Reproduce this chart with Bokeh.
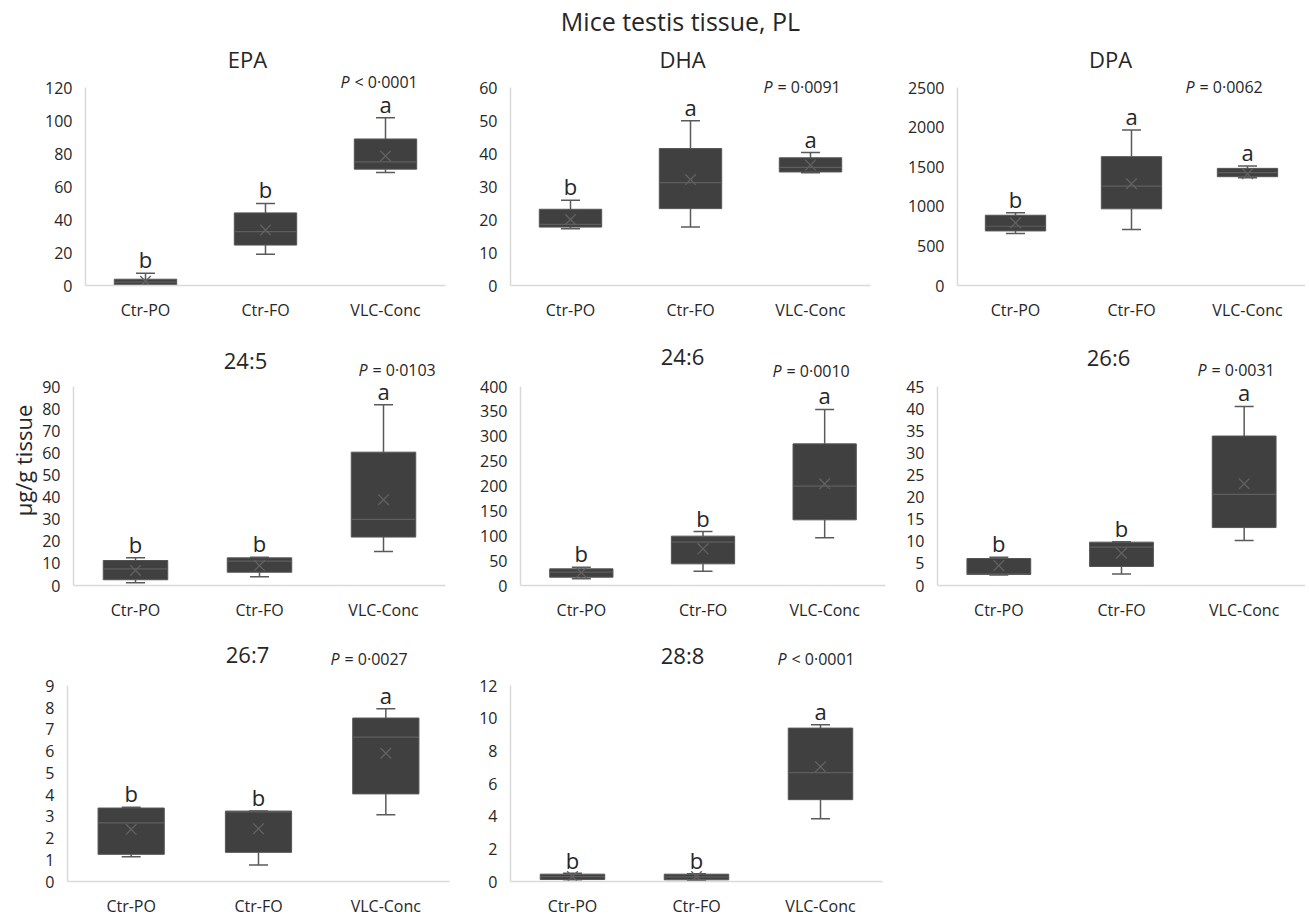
import math
from bokeh.plotting import figure
from bokeh.layouts import column, row
from bokeh.models import ColumnDataSource, FixedTicker, Range1d, FactorRange, Spacer
from bokeh.transform import dodge
from bokeh.core.properties import value
from bokeh.embed import file_html
from bokeh.resources import INLINE

# ---------------- data ----------------
MAIN_TITLE = "Mice testis tissue, PL"
Y_LABEL = "µg/g tissue"
GROUPS = ["Ctr-PO", "Ctr-FO", "VLC-Conc"]
PANELS = ["EPA", "DHA", "DPA", "24:5", "24:6", "26:6", "26:7", "28:8"]
Y_MAX = [120, 60, 2500, 90, 400, 45, 9, 12]
Y_STEP = [20, 10, 500, 10, 50, 5, 1, 2]
P_RELATION = ["<", "=", "=", "=", "=", "=", "=", "<"]
P_VALUES = ["0·0001", "0·0091", "0·0062", "0·0103", "0·0010", "0·0031", "0·0027", "0·0001"]
LETTERS = [["b", "b", "a"], ["b", "a", "a"], ["b", "a", "a"], ["b", "b", "a"],
           ["b", "b", "a"], ["b", "b", "a"], ["b", "b", "a"], ["b", "b", "a"]]

WHISKER_LOW = [[0.0, 18.9, 68.5], [17.2, 17.7, 34.2], [655, 706, 1361], [1.2, 4.0, 15.4],
               [13.4, 28.8, 95.9], [2.4, 2.6, 10.2], [1.14, 0.76, 3.07], [0.1, 0.05, 3.85]]
Q1 = [[0.3, 24.5, 70.5], [17.7, 23.3, 34.4], [689, 968, 1374], [2.6, 6.0, 21.9],
      [16.7, 43.5, 132], [2.5, 4.3, 13.1], [1.25, 1.34, 4.03], [0.12, 0.1, 5.02]]
MEDIAN = [[2.0, 32.6, 74.9], [18.5, 31.2, 35.8], [748, 1255, 1424], [7.5, 11.0, 29.9],
          [26.8, 87, 199.6], [2.6, 8.7, 20.6], [2.7, 3.2, 6.64], [0.3, 0.28, 6.68]]
Q3 = [[3.8, 44.0, 88.8], [23.1, 41.5, 38.7], [887, 1627, 1479], [11.3, 12.5, 60.3],
      [33.5, 99.2, 284.7], [6.1, 9.8, 33.8], [3.38, 3.24, 7.52], [0.45, 0.45, 9.41]]
WHISKER_HIGH = [[7.4, 49.7, 101.7], [25.8, 49.9, 40.3], [917, 1964, 1508], [12.5, 12.8, 81.7],
                [36.9, 108.5, 353.8], [6.4, 9.9, 40.5], [3.42, 3.24, 7.95], [0.5, 0.48, 9.61]]
MEAN = [[2.5, 33.6, 78.5], [20.0, 32.1, 36.5], [791, 1285, 1410], [6.8, 9.0, 38.8],
        [26.0, 73.7, 204.4], [4.5, 7.3, 23.0], [2.4, 2.43, 5.9], [0.3, 0.3, 7.04]]

# ---------------- styles / layout ----------------
FONT = "Open Sans"
INK = "#262626"
BOX_FILL = "#404040"
BOX_EDGE = "#555555"
LINE_GRAY = "#5a5a5a"
AXIS_GRAY = "#d9d9d9"

TITLE_H = 36
LABEL_W = 38
COL_X = [38, 450, 890]
COL_W = [412, 440, 415]
ROW_Y = [36, 325, 625]
ROW_H = [289, 300, 294]
ROW_FRAME_TOP = [44, 340, 634]
ROW_AXIS = [285, 585, 884]
ROW_TICK_TOP = [87, 386, 686]

FRAME_LR = [(85, 445), (510, 870), (957, 1305), (73, 445), (520, 885), (937, 1305),
            (67, 449), (510, 882)]
TITLE_XY = [(247, 58), (682, 58), (1110, 58), (245, 359), (682, 355), (1108, 356),
            (247, 654), (682, 655)]
P_XY = [(340, 81), (763, 86), (1185, 86), (358, 369), (772, 370), (1197, 369),
        (330, 659), (777, 659)]
LETTER_GAP_PX = 14


def make_panel(k):
    r, c = k // 3, k % 3
    left, right = FRAME_LR[k]
    x0, w = COL_X[c], COL_W[c]
    y0, h = ROW_Y[r], ROW_H[r]
    top_px, axis_px, tick_px = ROW_FRAME_TOP[r], ROW_AXIS[r], ROW_TICK_TOP[r]
    ymax = Y_MAX[k]
    per_px = ymax / (axis_px - tick_px)

    def y_of(py):
        return (axis_px - py) * per_px

    def cx(i):
        return left + (i + 0.5) * (right - left) / 3.0

    p = figure(width=w, height=h, x_range=FactorRange(*GROUPS),
               y_range=Range1d(0, y_of(top_px)), output_backend="svg",
               toolbar_location=None, title=None,
               min_border_left=left - x0, min_border_right=x0 + w - right,
               min_border_top=top_px - y0, min_border_bottom=y0 + h - axis_px)
    p.outline_line_color = None
    p.xgrid.visible = False
    p.ygrid.visible = False

    yax = p.yaxis[0]
    yax.ticker = FixedTicker(ticks=list(range(0, ymax + 1, Y_STEP[k])))
    yax.bounds = (0, ymax)
    yax.major_tick_line_color = None
    yax.minor_tick_line_color = None
    yax.major_tick_out = 0
    yax.major_tick_in = 0
    yax.minor_tick_out = 0
    yax.axis_line_color = AXIS_GRAY
    yax.axis_line_width = 1.5
    yax.major_label_standoff = 13
    yax.major_label_text_font = FONT
    yax.major_label_text_font_size = "16px"
    yax.major_label_text_color = INK

    xax = p.xaxis[0]
    xax.major_tick_line_color = None
    xax.minor_tick_line_color = None
    xax.major_tick_out = 0
    xax.major_tick_in = 0
    xax.axis_line_color = AXIS_GRAY
    xax.axis_line_width = 1.5
    xax.major_label_standoff = 13
    xax.major_label_text_font = FONT
    xax.major_label_text_font_size = "16px"
    xax.major_label_text_color = INK

    letter_y = [v + LETTER_GAP_PX * per_px for v in WHISKER_HIGH[k]]
    src = ColumnDataSource(dict(g=GROUPS, low=WHISKER_LOW[k], q1=Q1[k], med=MEDIAN[k],
                                q3=Q3[k], high=WHISKER_HIGH[k], mean=MEAN[k],
                                letter=LETTERS[k], ly=letter_y))
    p.segment(x0="g", x1="g", y0="q3", y1="high", source=src,
              line_color=LINE_GRAY, line_width=1.5)
    p.segment(x0="g", x1="g", y0="low", y1="q1", source=src,
              line_color=LINE_GRAY, line_width=1.5)
    p.scatter(x="g", y="high", source=src, marker="dash", size=19,
              line_color=LINE_GRAY, line_width=1.5)
    p.scatter(x="g", y="low", source=src, marker="dash", size=19,
              line_color=LINE_GRAY, line_width=1.5)
    p.vbar(x="g", width=0.52, bottom="q1", top="q3", source=src,
           fill_color=BOX_FILL, line_color=BOX_EDGE, line_width=1)
    p.segment(x0=dodge("g", -0.26, range=p.x_range), x1=dodge("g", 0.26, range=p.x_range),
              y0="med", y1="med", source=src, line_color="#5e5e5e", line_width=1.2)
    p.scatter(x="g", y="mean", source=src, marker="x", size=15,
              line_color="#626262", line_width=1.3)
    p.text(x="g", y="ly", text="letter", source=src, text_align="center",
           text_baseline="alphabetic", text_font=value(FONT),
           text_font_size="22px", text_color=INK)

    tx, ty = TITLE_XY[k]
    p.text(x=[GROUPS[1]], y=[y_of(ty)], text=[PANELS[k]], x_offset=tx - cx(1),
           text_align="center", text_baseline="middle", text_font=value(FONT),
           text_font_size="22px", text_color=INK)
    px, py = P_XY[k]
    p.text(x=[GROUPS[2]], y=[y_of(py)], text=["P"], x_offset=px - cx(2),
           text_align="left", text_baseline="middle", text_font=value(FONT),
           text_font_style="italic", text_font_size="16px", text_color=INK)
    p.text(x=[GROUPS[2]], y=[y_of(py)], text=["%s %s" % (P_RELATION[k], P_VALUES[k])],
           x_offset=px + 14 - cx(2), text_align="left", text_baseline="middle",
           text_font=value(FONT), text_font_size="16px", text_color=INK)
    return p


panels = [make_panel(k) for k in range(len(PANELS))]

# main title
total_w = LABEL_W + sum(COL_W)
title_fig = figure(width=total_w, height=TITLE_H, x_range=Range1d(0, total_w),
                   y_range=Range1d(0, TITLE_H), output_backend="svg",
                   toolbar_location=None, title=None,
                   x_axis_location=None, y_axis_location=None, min_border=0)
title_fig.grid.visible = False
title_fig.outline_line_color = None
title_fig.text(x=[680], y=[TITLE_H - 20], text=[MAIN_TITLE], text_align="center",
               text_baseline="middle", text_font=value(FONT), text_font_size="25px",
               text_color=INK)

# shared y label
total_h = sum(ROW_H)
label_fig = figure(width=LABEL_W, height=total_h, x_range=Range1d(0, LABEL_W),
                   y_range=Range1d(0, total_h), output_backend="svg",
                   toolbar_location=None, title=None,
                   x_axis_location=None, y_axis_location=None, min_border=0)
label_fig.grid.visible = False
label_fig.outline_line_color = None
label_fig.text(x=[22], y=[ROW_Y[0] + total_h - 460], text=[Y_LABEL], angle=math.pi / 2,
               text_align="center", text_baseline="middle", text_font=value(FONT),
               text_font_size="22px", text_color=INK)

grid = column(
    row(panels[0], panels[1], panels[2]),
    row(panels[3], panels[4], panels[5]),
    row(panels[6], panels[7], Spacer(width=COL_W[2], height=ROW_H[2])),
)
layout = column(title_fig, row(label_fig, grid))

open("out.html", "w").write(file_html(layout, INLINE))
